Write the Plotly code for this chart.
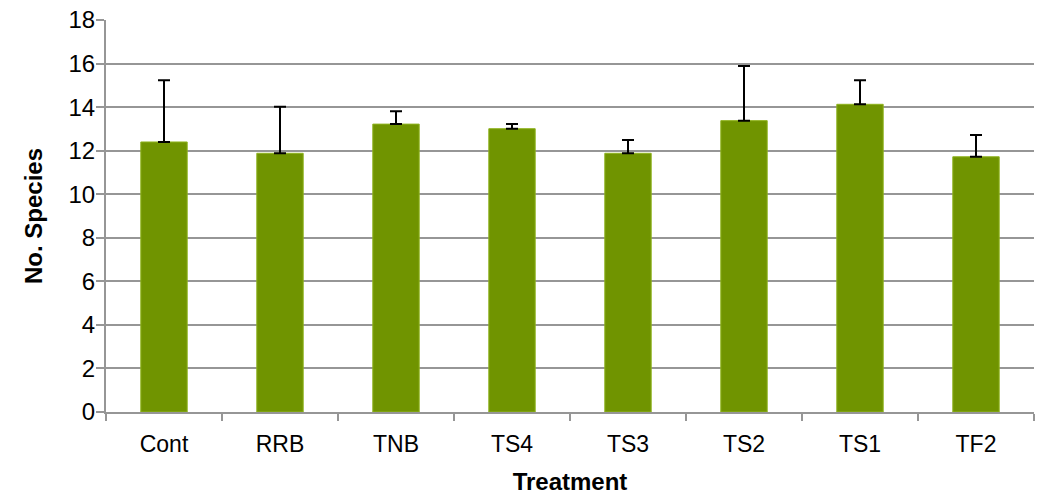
import plotly.graph_objects as go

categories = ["Cont", "RRB", "TNB", "TS4", "TS3", "TS2", "TS1", "TF2"]
means = [12.40, 11.88, 13.22, 13.01, 11.88, 13.38, 14.13, 11.72]
err_tops = [15.24, 14.02, 13.81, 13.22, 12.49, 15.89, 15.24, 12.72]
errors = [t - m for t, m in zip(err_tops, means)]
y_ticks = [0, 2, 4, 6, 8, 10, 12, 14, 16, 18]

fig = go.Figure(go.Bar(
    x=categories, y=means,
    marker=dict(color="#709400", line=dict(color="#8fb31e", width=1)),
    error_y=dict(type="data", array=errors, symmetric=False, arrayminus=[0]*len(means),
                 color="black", thickness=2, width=6),
    width=0.4,
))

font_family = "Liberation Sans, Arial, sans-serif"
fig.update_layout(
    width=1037, height=495,
    margin=dict(l=106, r=3, t=20, b=83),
    plot_bgcolor="white", paper_bgcolor="white",
    showlegend=False,
    font=dict(family=font_family, size=24, color="black"),
    xaxis=dict(
        title=dict(text="<b>Treatment</b>", font=dict(size=24), standoff=25),
        showline=True, linecolor="#969696", linewidth=2,
        ticks="outside", tickson="boundaries", ticklen=7, tickcolor="#969696", tickwidth=2,
        showgrid=False, tickfont=dict(size=23), ticklabelstandoff=10,
        automargin=False,
    ),
    yaxis=dict(
        title=dict(text="<b>No. Species</b>", font=dict(size=24), standoff=19),
        range=[0, 18.001], tickvals=y_ticks,
        showline=True, linecolor="#969696", linewidth=2,
        ticks="outside", ticklen=8, tickcolor="#969696", tickwidth=2,
        showgrid=True, gridcolor="#969696", gridwidth=2,
        tickfont=dict(size=24), zeroline=False,
        ticklabeloverflow="allow", ticklabelstandoff=-4,
        automargin=False,
    ),
)

fig.write_html("out.html", config={"displayModeBar": False},
               post_script="document.body.style.margin='0px';")
